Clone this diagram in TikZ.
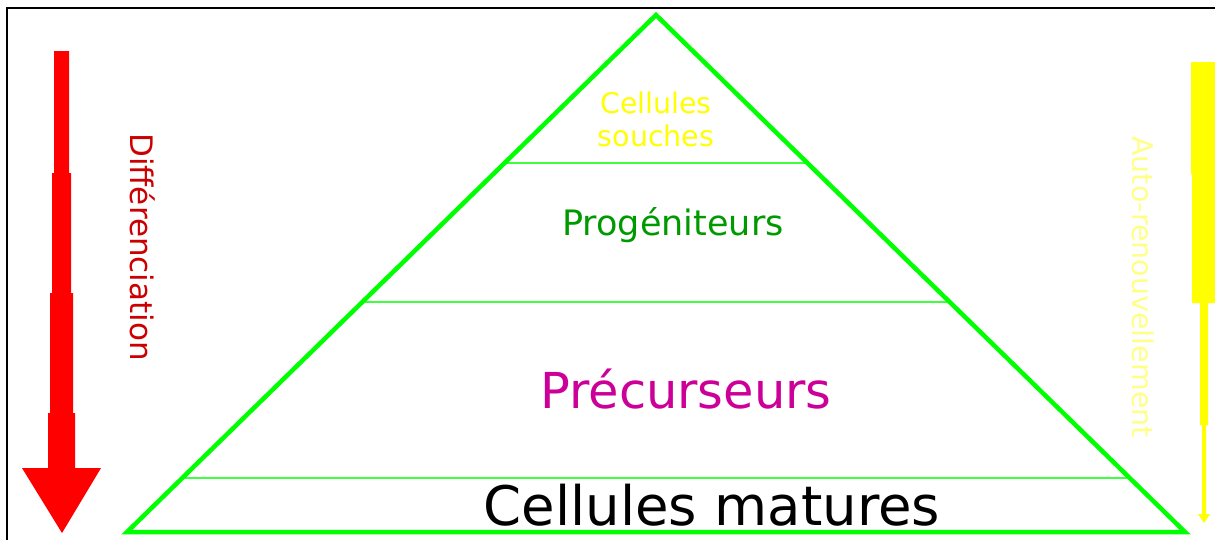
\documentclass[tikz,border=0pt]{standalone}
\usepackage{fontspec}
\setmainfont{DejaVu Sans}
\usepackage{tikz}
\usetikzlibrary{calc}
\definecolor{vif}{HTML}{00FF00}
\definecolor{rouge}{HTML}{FF0000}
\definecolor{rougefonce}{HTML}{CC0000}
\definecolor{jaune}{HTML}{FFFF00}
\definecolor{jaunepale}{HTML}{FFFF88}
\definecolor{vertfonce}{HTML}{009A00}
\definecolor{magenta}{HTML}{CC0099}

\begin{document}
\begin{tikzpicture}[x=1pt,y=-1pt,
  pyr/.style={draw=vif,line width=4.5pt},
  etage/.style={draw=vif!75,line width=1.3pt},
  lbl/.style={inner sep=0pt,align=center},
  vert/.style={lbl,rotate=-90}]
\useasboundingbox (0,0) rectangle (1215,539);
\clip (0,0) rectangle (1215,539);
\draw[line width=2pt] (7,8) rectangle (1230,560);
% pyramide
\coordinate (sommet) at (656,15);
\coordinate (gauche) at (127,532);
\coordinate (droite) at (1185,532);
\foreach \t/\n in {.2863/a,.5551/b,.8956/c}
  \draw[etage] ($(sommet)!\t!(gauche)$) coordinate (\n g) -- ($(sommet)!\t!(droite)$) coordinate (\n d);
\draw[pyr] (sommet) -- (droite) -- (gauche) -- cycle;
\node[lbl,jaune,font=\fontsize{28.5}{33}\selectfont] (souches) at (656,119) {Cellules\\souches};
\node[lbl,vertfonce,font=\fontsize{35}{42}\selectfont] (prog) at (673,225) {Progéniteurs};
\node[lbl,magenta,font=\fontsize{49.5}{59}\selectfont] (prec) at (686,389) {Précurseurs};
\node[lbl,black,font=\fontsize{54.5}{65}\selectfont] (mat) at (712,505) {Cellules matures};
% fleche differenciation
\fill[rouge] (54,51) rectangle (69,174) (52,173) rectangle (71,294)
  (50,293) rectangle (73,414) (48,413) rectangle (75,469);
\fill[rouge] (22,468) -- (101,468) -- (62,533) -- cycle;
\node[vert,rougefonce,font=\fontsize{31}{37}\selectfont] (diff) at (143,247) {Différenciation};
% fleche auto-renouvellement
\fill[jaune] (1191,62) rectangle (1220,174) (1192,173) rectangle (1220,303)
  (1200,302) rectangle (1208,425) (1202,424) rectangle (1206,515);
\fill[jaune] (1198,514) -- (1210,514) -- (1204,523) -- cycle;
\node[vert,jaunepale,font=\fontsize{28.5}{34}\selectfont] (auto) at (1143,287) {Auto-renouvellement};
\end{tikzpicture}
\end{document}
